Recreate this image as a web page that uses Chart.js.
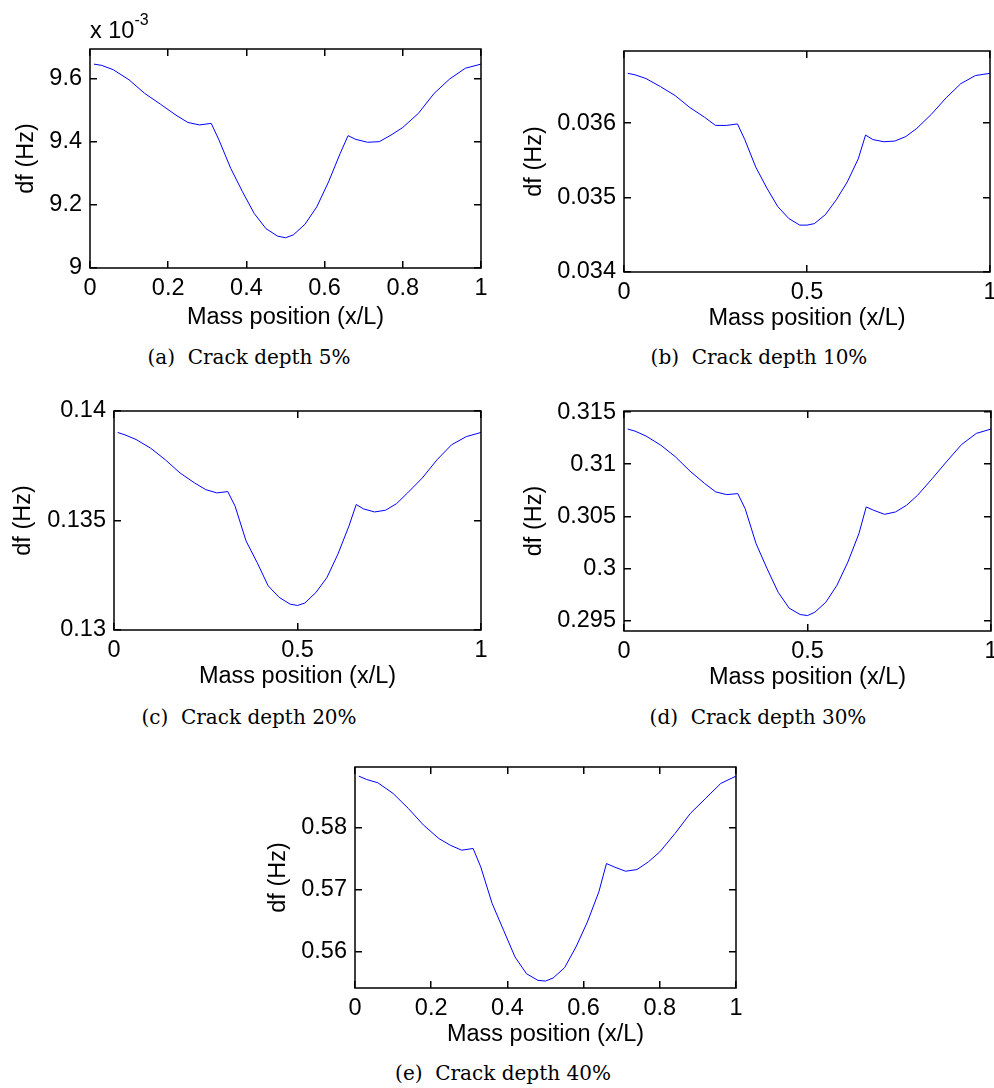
<!DOCTYPE html>
<html>
<head>
<meta charset="utf-8">
<title>Crack depth df</title>
<script src="https://cdn.jsdelivr.net/npm/chart.js@4.4.1/dist/chart.umd.min.js"></script>
<style>
    html, body { margin: 0; padding: 0; background: #fff; overflow: hidden; width: 994px; height: 1088px; }
    .pane { position: absolute; }
    .cap { position: absolute; font-family: "Palatino Linotype", "Book Antiqua", Palatino, "DejaVu Serif", serif; font-size: 20px; line-height: 24px; white-space: pre; transform: translate(-50%, -50%); color: #000; }
    .mult { position: absolute; font-family: "Liberation Sans", Arial, sans-serif; font-size: 23.5px; line-height: 24px; color: #000; white-space: pre; }
    .mult span { font-size: 16px; position: relative; top: -13px; }
</style>
</head>
<body>
<script>
// mass position x/L
const xPos = [0.01, 0.03, 0.06, 0.1, 0.14, 0.18, 0.22, 0.25, 0.28, 0.31, 0.33, 0.36, 0.39, 0.42, 0.45, 0.48, 0.5,
    0.52, 0.55, 0.58, 0.61, 0.64, 0.66, 0.68, 0.71, 0.74, 0.77, 0.8, 0.84, 0.88, 0.92, 0.96, 1.0];

// df (Hz) for each crack depth; 5% is in units of 1e-3 Hz
const df5 = [9.647, 9.643, 9.629, 9.597, 9.554, 9.520, 9.485, 9.462, 9.454, 9.459, 9.406, 9.316, 9.242, 9.173, 9.125, 9.101, 9.096,
    9.105, 9.139, 9.194, 9.273, 9.364, 9.420, 9.408, 9.399, 9.401, 9.422, 9.446, 9.491, 9.554, 9.600, 9.634, 9.647];
const df10 = [0.03667, 0.03665, 0.03660, 0.03649, 0.03637, 0.03621, 0.03608, 0.03597, 0.03597, 0.03599, 0.03578, 0.03541, 0.03513, 0.03488, 0.03472, 0.03463, 0.03463,
    0.03465, 0.03477, 0.03497, 0.03521, 0.03552, 0.03584, 0.03578, 0.03575, 0.03576, 0.03582, 0.03593, 0.03612, 0.03634, 0.03653, 0.03664, 0.03667];
const df20 = [0.13902, 0.13891, 0.13870, 0.13830, 0.13777, 0.13717, 0.13671, 0.13641, 0.13626, 0.13632, 0.13565, 0.13406, 0.13308, 0.13202, 0.13149, 0.13118, 0.13112,
    0.13123, 0.13171, 0.13239, 0.13346, 0.13474, 0.13573, 0.13553, 0.13539, 0.13547, 0.13577, 0.13626, 0.13694, 0.13777, 0.13846, 0.13883, 0.13902];
const df30 = [0.31337, 0.31317, 0.31270, 0.31183, 0.31071, 0.30933, 0.30814, 0.30734, 0.30708, 0.30718, 0.30574, 0.30237, 0.29997, 0.29772, 0.29619, 0.29558, 0.29548,
    0.29580, 0.29676, 0.29837, 0.30061, 0.30333, 0.30590, 0.30558, 0.30519, 0.30542, 0.30606, 0.30702, 0.30862, 0.31029, 0.31189, 0.31295, 0.31337];
const df40 = [0.58833, 0.58780, 0.58726, 0.58554, 0.58312, 0.58043, 0.57828, 0.57720, 0.57640, 0.57667, 0.57371, 0.56780, 0.56350, 0.55919, 0.55651, 0.55543, 0.55532,
    0.55581, 0.55747, 0.56081, 0.56484, 0.56968, 0.57425, 0.57371, 0.57301, 0.57328, 0.57452, 0.57613, 0.57909, 0.58231, 0.58473, 0.58715, 0.58833];

// tick labels
const xTicksFine = [0, 0.2, 0.4, 0.6, 0.8, 1];
const xTicksHalf = [0, 0.5, 1];
const yTicks5 = [9, 9.2, 9.4, 9.6];
const yTicks10 = [0.034, 0.035, 0.036];
const yTicks20 = [0.13, 0.135, 0.14];
const yTicks30 = [0.295, 0.3, 0.305, 0.31, 0.315];
const yTicks40 = [0.56, 0.57, 0.58];

const captions = ['(a)  Crack depth 5%', '(b)  Crack depth 10%', '(c)  Crack depth 20%', '(d)  Crack depth 30%', '(e)  Crack depth 40%'];

// box = plot frame in page px [left, top, right, bottom]
const panels = [
    { data: df5, yMin: 9, yMax: 9.695, yTicks: yTicks5, xTicks: xTicksFine, box: [90, 49, 481, 268], yTitleX: 26, xTitleY: 318, cap: [249, 357] },
    { data: df10, yMin: 0.034, yMax: 0.03697, yTicks: yTicks10, xTicks: xTicksHalf, box: [624, 51, 990, 272], yTitleX: 534, xTitleY: 319, cap: [759, 357] },
    { data: df20, yMin: 0.13, yMax: 0.14, yTicks: yTicks20, xTicks: xTicksHalf, box: [114, 411, 481, 630], yTitleX: 23, xTitleY: 677, cap: [249, 717] },
    { data: df30, yMin: 0.294, yMax: 0.3151, yTicks: yTicks30, xTicks: xTicksHalf, box: [624, 411, 991, 631], yTitleX: 534, xTitleY: 678, cap: [758, 717] },
    { data: df40, yMin: 0.5542, yMax: 0.5898, yTicks: yTicks40, xTicks: xTicksFine, box: [355, 767, 736, 988], yTitleX: 278, xTitleY: 1035, cap: [503, 1073] }
];

const font = { family: '"Liberation Sans", Arial, Helvetica, sans-serif', size: 23.5 };
const half = 14;
const tickLen = 7;

// inward tick marks drawn by chart.js itself (negative tick length)
const inwardGrid = { display: true, drawOnChartArea: false, drawTicks: true, tickLength: -tickLen, color: '#000', lineWidth: 1.5 };

// matlab style box round the plot area
function framePlugin(i) {
    return {
        id: 'frame' + i,
        afterDraw(chart) {
            const ctx = chart.ctx;
            const a = chart.chartArea;
            ctx.save();
            ctx.strokeStyle = '#000000';
            ctx.lineWidth = 1.5;
            ctx.strokeRect(a.left, a.top, a.right - a.left, a.bottom - a.top);
            ctx.restore();
        }
    };
}

function fmt(v) {
    return String(+Number(v).toFixed(6));
}

function makePanel(p, i) {
    const [L, T, R, B] = p.box;
    const left = Math.round(p.yTitleX - half);
    const top = T - 20;
    const right = R + 20;
    const bottom = Math.round(p.xTitleY + half);
    const yw = L - left, xh = bottom - B;

    const wrap = document.createElement('div');
    wrap.className = 'pane';
    wrap.style.left = left + 'px';
    wrap.style.top = top + 'px';
    wrap.style.width = (right - left) + 'px';
    wrap.style.height = (bottom - top) + 'px';
    const canvas = document.createElement('canvas');
    wrap.appendChild(canvas);
    document.body.appendChild(wrap);

    const cap = document.createElement('div');
    cap.className = 'cap';
    cap.textContent = captions[i];
    cap.style.left = p.cap[0] + 'px';
    cap.style.top = p.cap[1] + 'px';
    document.body.appendChild(cap);

    const setX = s => { s.ticks = p.xTicks.map(v => ({ value: v })); };
    const setY = s => { s.ticks = p.yTicks.map(v => ({ value: v })); };

    new Chart(canvas, {
        type: 'line',
        data: {
            datasets: [{
                data: xPos.map((x, k) => ({ x: x, y: p.data[k] })),
                xAxisID: 'x',
                yAxisID: 'y',
                borderColor: '#0000ff',
                borderWidth: 1,
                pointRadius: 0,
                tension: 0,
                fill: false
            }]
        },
        options: {
            responsive: true,
            maintainAspectRatio: false,
            animation: false,
            events: [],
            layout: { padding: { top: 20, right: 20, left: 0, bottom: 0 } },
            plugins: { legend: { display: false }, tooltip: { enabled: false } },
            scales: {
                x: {
                    type: 'linear', position: 'bottom', min: 0, max: 1,
                    afterBuildTicks: setX,
                    afterFit: s => { s.height = xh; s.paddingLeft = 0; s.paddingRight = 0; },
                    grid: inwardGrid,
                    border: { display: false },
                    ticks: { padding: 6 + tickLen, color: '#000', font: font, maxRotation: 0, autoSkip: false, callback: fmt },
                    title: { display: true, text: 'Mass position (x/L)', color: '#000', font: font, padding: 0 }
                },
                x2: {
                    type: 'linear', axis: 'x', position: 'top', min: 0, max: 1,
                    afterBuildTicks: setX,
                    afterFit: s => { s.height = 0; s.paddingLeft = 0; s.paddingRight = 0; },
                    grid: inwardGrid,
                    border: { display: false },
                    ticks: { display: false, autoSkip: false }
                },
                y: {
                    type: 'linear', position: 'left', min: p.yMin, max: p.yMax,
                    afterBuildTicks: setY,
                    afterFit: s => { s.width = yw; s.paddingTop = 0; s.paddingBottom = 0; },
                    grid: inwardGrid,
                    border: { display: false },
                    ticks: { padding: 8 + tickLen, color: '#000', font: font, autoSkip: false, callback: fmt },
                    title: { display: true, text: 'df (Hz)', color: '#000', font: font, padding: 0 }
                },
                y2: {
                    type: 'linear', axis: 'y', position: 'right', min: p.yMin, max: p.yMax,
                    afterBuildTicks: setY,
                    afterFit: s => { s.width = 0; s.paddingTop = 0; s.paddingBottom = 0; },
                    grid: inwardGrid,
                    border: { display: false },
                    ticks: { display: false, autoSkip: false }
                }
            }
        },
        plugins: [framePlugin(i)]
    });
}

panels.forEach(makePanel);

// exponent label of the 5% panel
const mult = document.createElement('div');
mult.className = 'mult';
mult.style.left = '90px';
mult.style.top = '18px';
mult.innerHTML = 'x 10<span>-3</span>';
document.body.appendChild(mult);
</script>
</body>
</html>
